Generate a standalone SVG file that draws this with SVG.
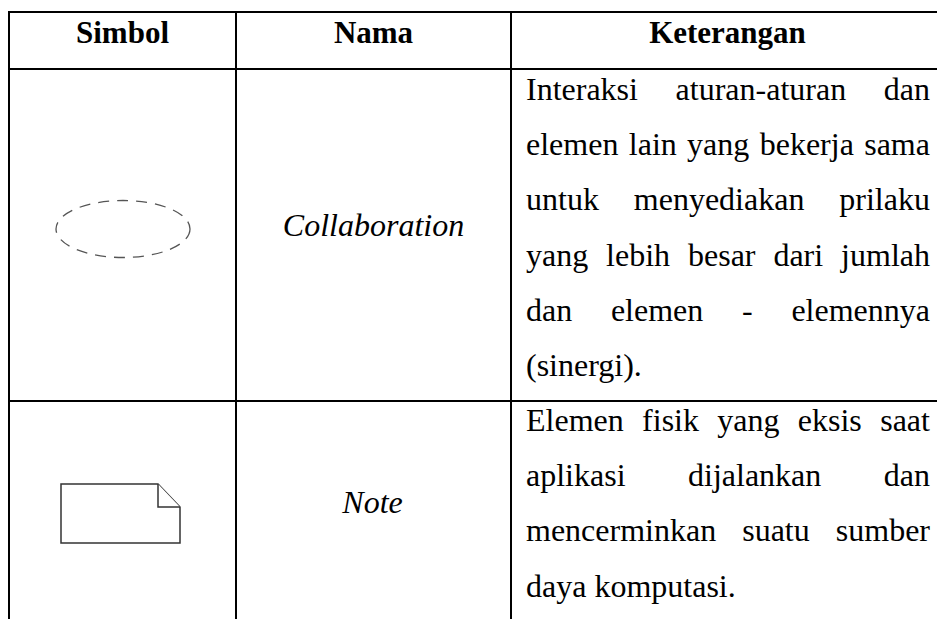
<svg xmlns="http://www.w3.org/2000/svg" width="937" height="619" viewBox="0 0 937 619">
<style>
.grid{stroke:#000;stroke-width:2;fill:none}
.h{font-family:"Liberation Serif","Times New Roman",serif;font-size:31px;font-weight:bold;fill:#000;text-anchor:middle}
.n{font-family:"Liberation Serif","Times New Roman",serif;font-size:32px;font-style:italic;fill:#000;text-anchor:middle}
.t{font-family:"Liberation Serif","Times New Roman",serif;font-size:32px;fill:#000}
.e{text-anchor:end}
.sym{fill:#fff;stroke:#333;stroke-width:1.5}
</style>
<rect width="937" height="619" fill="#fff"/>
<g id="table-grid">
<line class="grid" x1="8" y1="12" x2="937" y2="12"/>
<line class="grid" x1="8" y1="69" x2="937" y2="69"/>
<line class="grid" x1="8" y1="401" x2="937" y2="401"/>
<line class="grid" x1="9" y1="11" x2="9" y2="619"/>
<line class="grid" x1="236" y1="11" x2="236" y2="619"/>
<line class="grid" x1="511" y1="11" x2="511" y2="619"/>
</g>
<g id="header">
<text class="h" x="122.5" y="43">Simbol</text>
<text class="h" x="373.5" y="43">Nama</text>
<text class="h" x="727.5" y="43">Keterangan</text>
</g>
<g id="row-collaboration">
<ellipse cx="123" cy="229" rx="67" ry="28.5" fill="none" stroke="#555" stroke-width="1.3" stroke-dasharray="11 8"/>
<text class="n" x="373.5" y="236">Collaboration</text>
<text class="t" y="100"><tspan x="526">Interaksi</tspan><tspan x="675.6">aturan-aturan</tspan><tspan x="930" class="e" text-anchor="end">dan</tspan></text>
<text class="t" y="155"><tspan x="526">elemen</tspan><tspan x="628.8">lain</tspan><tspan x="687.1">yang</tspan><tspan x="759.7">bekerja</tspan><tspan x="864.2">sama</tspan></text>
<text class="t" y="210"><tspan x="526">untuk</tspan><tspan x="633.8">menyediakan</tspan><tspan x="839.3">prilaku</tspan></text>
<text class="t" y="266"><tspan x="526">yang</tspan><tspan x="606.1">lebih</tspan><tspan x="688">besar</tspan><tspan x="773.4">dari</tspan><tspan x="841.1">jumlah</tspan></text>
<text class="t" y="321"><tspan x="526">dan</tspan><tspan x="610.9">elemen</tspan><tspan x="742">-</tspan><tspan x="791.4">elemennya</tspan></text>
<text class="t" x="526" y="376">(sinergi).</text>
</g>
<g id="row-note">
<path class="sym" d="M61 484 H158 L180 507 V543 H61 Z"/>
<path class="sym" d="M158 484 V507 H180" fill="none"/>
<text class="n" x="372.5" y="513">Note</text>
<text class="t" y="431"><tspan x="526">Elemen</tspan><tspan x="642.1">fisik</tspan><tspan x="717.3">yang</tspan><tspan x="797.8">eksis</tspan><tspan x="880.2">saat</tspan></text>
<text class="t" y="486"><tspan x="526">aplikasi</tspan><tspan x="688">dijalankan</tspan><tspan x="883.8">dan</tspan></text>
<text class="t" y="541"><tspan x="526">mencerminkan</tspan><tspan x="742.2">suatu</tspan><tspan x="835.8">sumber</tspan></text>
<text class="t" x="526" y="597">daya komputasi.</text>
</g>
</svg>
